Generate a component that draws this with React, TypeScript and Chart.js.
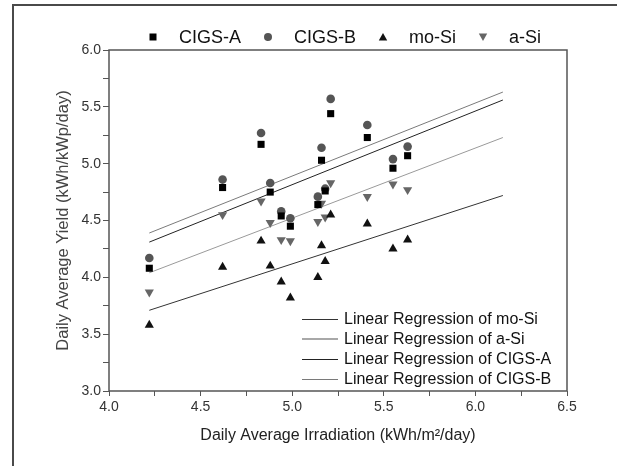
import React, { useEffect, useRef } from "react";
import { Chart, registerables } from "chart.js";

Chart.register(...registerables);

// ---- data ----
const irradiation = [4.22, 4.62, 4.83, 4.88, 4.94, 4.99, 5.14, 5.16, 5.18, 5.21, 5.41, 5.55, 5.63];
const cigsA = [4.08, 4.79, 5.17, 4.75, 4.54, 4.45, 4.64, 5.03, 4.76, 5.44, 5.23, 4.96, 5.07];
const cigsB = [4.17, 4.86, 5.27, 4.83, 4.58, 4.52, 4.71, 5.14, 4.78, 5.57, 5.34, 5.04, 5.15];
const moSi = [3.58, 4.09, 4.32, 4.1, 3.96, 3.82, 4.0, 4.28, 4.14, 4.55, 4.47, 4.25, 4.33];
const aSi = [3.87, 4.55, 4.67, 4.48, 4.33, 4.32, 4.49, 4.65, 4.53, 4.83, 4.71, 4.82, 4.77];

// regression line end points (start / end irradiation and yields)
const regX = [4.22, 6.15];
const regMoSi = [3.71, 4.72];
const regASi = [4.04, 5.23];
const regCigsA = [4.31, 5.56];
const regCigsB = [4.39, 5.63];

const xMajorTicks = [4.0, 4.5, 5.0, 5.5, 6.0, 6.5];
const xTickLabels = ["4.0", "4.5", "5.0", "5.5", "6.0", "6.5"];
const yMajorTicks = [3.0, 3.5, 4.0, 4.5, 5.0, 5.5, 6.0];
const yTickLabels = ["3.0", "3.5", "4.0", "4.5", "5.0", "5.5", "6.0"];

const seriesNames = ["CIGS-A", "CIGS-B", "mo-Si", "a-Si"];
const regNames = [
  "Linear Regression of mo-Si",
  "Linear Regression of a-Si",
  "Linear Regression of CIGS-A",
  "Linear Regression of CIGS-B",
];

const FONT = '"Liberation Sans", Arial, Helvetica, sans-serif';

const markerColors = ["#000000", "#555555", "#111111", "#666666"];
const regColors = ["#333333", "#9a9a9a", "#222222", "#7a7a7a"];

function pts(xs: number[], ys: number[]) {
  return xs.map((x, i) => ({ x, y: ys[i] }));
}

function labelFor(v: number, ticks: number[], labels: string[]) {
  const i = ticks.findIndex((t) => Math.abs(t - v) < 1e-6);
  return i >= 0 ? labels[i] : "";
}

const boxPlugin = {
  id: "plotBox",
  afterDraw(chart: any) {
    const { ctx, chartArea: a } = chart;
    ctx.save();
    ctx.strokeStyle = "#555555";
    ctx.lineWidth = 1.5;
    ctx.strokeRect(a.left, a.top, a.right - a.left, a.bottom - a.top);
    ctx.restore();
  },
};

function Marker({ kind, color }: { kind: string; color: string }) {
  let shape: React.ReactNode = null;
  if (kind === "rect") shape = <rect x={1.5} y={1.5} width={7} height={7} fill={color} />;
  else if (kind === "circle") shape = <circle cx={5} cy={5} r={4} fill={color} />;
  else if (kind === "up") shape = <polygon points="5,1 9.2,8.6 0.8,8.6" fill={color} />;
  else shape = <polygon points="0.8,1.4 9.2,1.4 5,9" fill={color} />;
  return (
    <svg width={10} height={10} style={{ display: "block" }}>
      {shape}
    </svg>
  );
}

export default function App() {
  const ref = useRef<HTMLCanvasElement>(null);

  useEffect(() => {
    if (!ref.current) return;
    const scatterStyles = ["rect", "circle", "triangle", "triangle"];
    const radii = [5, 4.3, 5.3, 5.3];
    const rotations = [0, 0, 0, 180];
    const values = [cigsA, cigsB, moSi, aSi];
    const scatterSets = values.map((ys, i) => ({
      label: seriesNames[i],
      data: pts(irradiation, ys),
      pointStyle: scatterStyles[i],
      pointRadius: radii[i],
      pointRotation: rotations[i],
      pointBackgroundColor: markerColors[i],
      pointBorderColor: markerColors[i],
      pointBorderWidth: 0,
      showLine: false,
    }));
    const regValues = [regMoSi, regASi, regCigsA, regCigsB];
    const regSets = regValues.map((ys, i) => ({
      label: regNames[i],
      data: pts(regX, ys),
      showLine: true,
      pointRadius: 0,
      borderColor: regColors[i],
      borderWidth: 1,
      backgroundColor: regColors[i],
    }));

    const chart = new Chart(ref.current, {
      type: "scatter",
      data: { datasets: [...scatterSets, ...regSets] as any },
      plugins: [boxPlugin],
      options: {
        responsive: false,
        animation: false,
        devicePixelRatio: 1,
        layout: { padding: { top: 50, right: 50, left: 0, bottom: 0 } },
        plugins: { legend: { display: false }, tooltip: { enabled: false } },
        scales: {
          x: {
            type: "linear",
            min: 4,
            max: 6.5,
            afterFit: (s: any) => {
              s.height = 75;
            },
            ticks: {
              stepSize: 0.25,
              autoSkip: false,
              maxRotation: 0,
              padding: 3,
              color: "#333333",
              font: { family: FONT, size: 14, weight: "normal" },
              callback: (v: any) => labelFor(Number(v), xMajorTicks, xTickLabels),
            },
            grid: {
              drawOnChartArea: false,
              drawTicks: true,
              tickLength: 5,
              tickColor: "#555555",
              tickWidth: 1,
            },
            border: { display: false },
            title: {
              display: true,
              text: "Daily Average Irradiation (kWh/m\u00B2/day)",
              color: "#222222",
              font: { family: FONT, size: 16, weight: "normal" },
              padding: { top: 0, bottom: 21 },
            },
          },
          y: {
            type: "linear",
            min: 3,
            max: 6,
            afterFit: (s: any) => {
              s.width = 109;
            },
            ticks: {
              stepSize: 0.25,
              autoSkip: false,
              padding: 2,
              color: "#333333",
              font: { family: FONT, size: 14, weight: "normal" },
              callback: (v: any) => labelFor(Number(v), yMajorTicks, yTickLabels),
            },
            grid: {
              drawOnChartArea: false,
              drawTicks: true,
              tickLength: 6,
              tickColor: "#555555",
              tickWidth: 1,
            },
            border: { display: false },
            title: {
              display: true,
              text: "Daily Average Yield (kWh/kWp/day)",
              color: "#444444",
              font: { family: FONT, size: 16.5, weight: "normal" },
              padding: { top: 54, bottom: 0 },
            },
          },
        },
      } as any,
    });
    return () => chart.destroy();
  }, []);

  const legendKinds = ["rect", "circle", "up", "down"];

  return (
    <div
      style={{
        position: "fixed",
        left: 0,
        top: 0,
        width: 617,
        height: 466,
        overflow: "hidden",
        background: "#ffffff",
        fontFamily: FONT,
      }}
    >
      <canvas
        ref={ref}
        width={617}
        height={466}
        style={{ position: "absolute", left: 0, top: 0, width: 617, height: 466 }}
      />
      <div
        style={{
          position: "absolute",
          left: 12,
          top: 4,
          width: 800,
          height: 800,
          borderLeft: "2px solid #4a4a4a",
          borderTop: "2px solid #4a4a4a",
          pointerEvents: "none",
        }}
      />
      <div
        style={{
          position: "absolute",
          left: 148,
          top: 27,
          display: "flex",
          alignItems: "center",
          height: 20,
          fontSize: 18,
          lineHeight: "20px",
          color: "#111111",
          whiteSpace: "nowrap",
        }}
      >
        {seriesNames.map((n, i) => (
          <div key={n} style={{ display: "flex", alignItems: "center", marginRight: 22 }}>
            <Marker kind={legendKinds[i]} color={markerColors[i]} />
            <span style={{ marginLeft: 21 }}>{n}</span>
          </div>
        ))}
      </div>
      <div
        style={{
          position: "absolute",
          left: 302,
          top: 309,
          fontSize: 16,
          lineHeight: "20px",
          color: "#111111",
          whiteSpace: "nowrap",
        }}
      >
        {regNames.map((n, i) => (
          <div key={n} style={{ display: "flex", alignItems: "center", height: 20 }}>
            <div
              style={{
                width: 36,
                height: i === 1 ? 2 : 1,
                background: i === 1 ? "#a8a8a8" : regColors[i],
                marginRight: 6,
              }}
            />
            <span>{n}</span>
          </div>
        ))}
      </div>
    </div>
  );
}
